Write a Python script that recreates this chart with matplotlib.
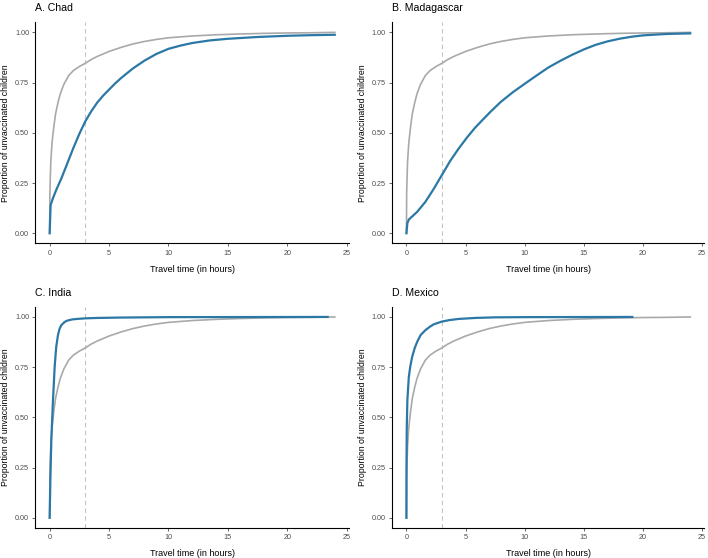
import matplotlib as mpl
import matplotlib.pyplot as plt

mpl.rcParams['font.family'] = ['Liberation Sans', 'DejaVu Sans']

# DATA
## reference curve (gray), same in every panel
ref_x = [0, 0.02, 0.05, 0.1, 0.2, 0.35, 0.5, 0.7, 0.9, 1.2, 1.6, 2, 2.5, 3, 3.5, 4, 5, 6, 7, 8, 9, 10,
         12, 14, 16, 18, 20, 22, 24]
ref_y = [0.0, 0.2, 0.27, 0.36, 0.45, 0.53, 0.595, 0.65, 0.695, 0.742, 0.785, 0.81, 0.83, 0.846, 0.865,
         0.88, 0.905, 0.925, 0.942, 0.955, 0.965, 0.973, 0.982, 0.988, 0.992, 0.995, 0.997, 0.998, 1.0]

## country curves (blue)
chad_x = [0, 0.08, 0.28, 0.55, 1, 1.5, 2, 2.5, 3, 3.5, 4, 4.5, 5, 5.5, 6, 7, 8, 9, 10,
          11, 12, 13.5, 15, 17.5, 20, 22, 24]
chad_y = [0.0, 0.14, 0.175, 0.215, 0.275, 0.35, 0.425, 0.495, 0.557, 0.607, 0.65, 0.685,
          0.715, 0.745, 0.772, 0.82, 0.86, 0.893, 0.918, 0.934, 0.947, 0.96, 0.968, 0.977, 0.983, 0.986, 0.988]

mada_x = [0, 0.08, 0.2, 0.9, 1.6, 2.3, 3, 3.7, 4.4, 5.1, 5.8, 6.5, 7.2, 8, 9, 10, 11, 12, 13, 14, 15,
          16, 17, 18, 19, 20, 22, 24]
mada_y = [0.0, 0.05, 0.068, 0.106, 0.156, 0.22, 0.29, 0.36, 0.42, 0.475, 0.525, 0.568, 0.61, 0.655,
          0.702, 0.744, 0.785, 0.825, 0.858, 0.888, 0.915, 0.938, 0.955, 0.968, 0.978, 0.985, 0.992, 0.995]

india_x = [0, 0.06, 0.14, 0.28, 0.42, 0.55, 0.7, 0.83, 0.97, 1.2, 1.4, 1.7, 1.94, 2.5, 3, 4, 6, 10, 23.4]
india_y = [0.0, 0.19, 0.39, 0.585, 0.75, 0.85, 0.91, 0.94, 0.958, 0.972, 0.98, 0.985, 0.988, 0.991,
           0.993, 0.995, 0.997, 0.999, 1.0]

mex_x = [0, 0.005, 0.03, 0.08, 0.2, 0.33, 0.48, 0.7, 0.9, 1.2, 1.6, 2, 2.3, 3, 3.6, 4.4, 5.8, 7.5,
         10, 19.1]
mex_y = [0.0, 0.25, 0.45, 0.585, 0.70, 0.755, 0.80, 0.845, 0.875, 0.91, 0.934, 0.952, 0.963, 0.977,
         0.984, 0.99, 0.995, 0.998, 0.999, 1.0]

titles = ['A. Chad', 'B. Madagascar', 'C. India', 'D. Mexico']
series = [(chad_x, chad_y), (mada_x, mada_y), (india_x, india_y), (mex_x, mex_y)]
xticks = [0, 5, 10, 15, 20, 25]
yticks = [0.00, 0.25, 0.50, 0.75, 1.00]

blue = '#2b78a6'
gray = '#a9a9a9'

# axes rectangles in figure fraction
rects = [
    [0.050, 0.564, 0.443, 0.396],
    [0.554, 0.564, 0.441, 0.396],
    [0.050, 0.054, 0.443, 0.396],
    [0.554, 0.054, 0.441, 0.396],
]

fig = plt.figure(figsize=(7.08, 5.58), dpi=100)
for rect, title, (bx, by) in zip(rects, titles, series):
    ax = fig.add_axes(rect)
    ax.axvline(3, color='#c4c4c4', lw=0.8, ls=(0, (4, 3)), zorder=1)
    ax.plot(ref_x, ref_y, color=gray, lw=1.2, zorder=2)
    ax.plot(bx, by, color=blue, lw=1.6, zorder=3)
    ax.set_xlim(-1.2, 25.2)
    ax.set_ylim(-0.05, 1.05)
    ax.set_xticks(xticks)
    ax.set_xticklabels([str(t) for t in xticks])
    ax.set_yticks(yticks)
    ax.set_yticklabels(['%.2f' % t for t in yticks])
    ax.tick_params(labelsize=5.2, colors='#4d4d4d', length=2.5, width=0.6, pad=2)
    for s in ['top', 'right']:
        ax.spines[s].set_visible(False)
    for s in ['left', 'bottom']:
        ax.spines[s].set_linewidth(0.8)
    ax.set_xlabel('Travel time (in hours)', fontsize=6.5, labelpad=6)
    ax.set_ylabel('Proportion of unvaccinated children', fontsize=6.3, labelpad=3.5)
    ax.set_title(title, fontsize=7.6, loc='left', pad=8)

plt.savefig('out.png', dpi=100)
plt.close()
